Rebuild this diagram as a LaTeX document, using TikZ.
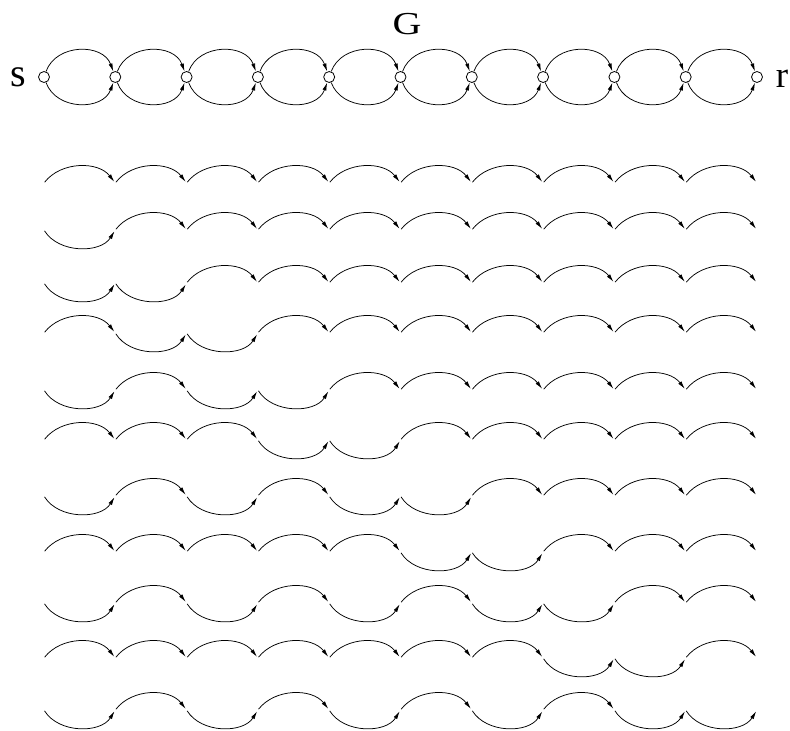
\documentclass[tikz,border=0pt]{standalone}
\usepackage{fontspec}
\setmainfont{Liberation Serif}
\usetikzlibrary{arrows.meta}
\newcommand\drawrow[3]{%
  \foreach \k in {0,...,10} \coordinate (p#1-\k) at ({44+71.3*\k},{-#2});
  \foreach \s [count=\k from 0] in {#3} {%
    \pgfmathtruncatemacro\kn{\k+1}%
    \draw[parc] (p#1-\k) to[bend left=\s] (p#1-\kn);}%
}
\def\U{52}
\def\L{-58}
\begin{document}
\begin{tikzpicture}[x=1pt,y=1pt,
  vtx/.style={circle,draw,line width=0.8pt,minimum size=11pt,inner sep=0pt},
  garc/.style={line width=0.75pt,-{Latex[length=8pt,width=4pt]},looseness=1.15},
  parc/.style={line width=0.75pt,-{Latex[length=8pt,width=4pt]},shorten >=1.5pt,shorten <=1pt},
  lbl/.style={inner sep=0pt}]
\useasboundingbox (0,0) rectangle (790,-731);
% graph G
\node[lbl,font=\fontsize{32}{32}\selectfont] (title) at (407,-24) {\scalebox{1.25}[1]{G}};
\foreach \i in {0,...,10} \node[vtx] (g\i) at ({44+71.3*\i},-77) {};
\node[lbl,font=\fontsize{40}{40}\selectfont] (s) at (18,-77) {s};
\node[lbl,font=\fontsize{37}{37}\selectfont] (r) at (782,-79) {r};
\foreach \i [evaluate=\i as \j using int(\i+1)] in {0,...,9} {
  \draw[garc] (g\i) to[bend left=70] (g\j);
  \draw[garc] (g\i) to[bend right=70] (g\j);
}
% paths
\drawrow{1}{183}{\U,\U,\U,\U,\U,\U,\U,\U,\U,\U}
\drawrow{2}{230}{\L,\U,\U,\U,\U,\U,\U,\U,\U,\U}
\drawrow{3}{283}{\L,\L,\U,\U,\U,\U,\U,\U,\U,\U}
\drawrow{4}{333}{\U,\L,\L,\U,\U,\U,\U,\U,\U,\U}
\drawrow{5}{390}{\L,\U,\L,\L,\U,\U,\U,\U,\U,\U}
\drawrow{6}{440}{\U,\U,\U,\L,\L,\U,\U,\U,\U,\U}
\drawrow{7}{496}{\L,\U,\L,\U,\L,\L,\U,\U,\U,\U}
\drawrow{8}{552}{\U,\U,\U,\U,\U,\L,\L,\U,\U,\U}
\drawrow{9}{603}{\L,\U,\L,\U,\L,\U,\L,\L,\U,\U}
\drawrow{10}{658}{\U,\U,\U,\U,\U,\U,\U,\L,\L,\U}
\drawrow{11}{710}{\L,\U,\L,\U,\L,\U,\L,\U,\L,\L}
\end{tikzpicture}
\end{document}
